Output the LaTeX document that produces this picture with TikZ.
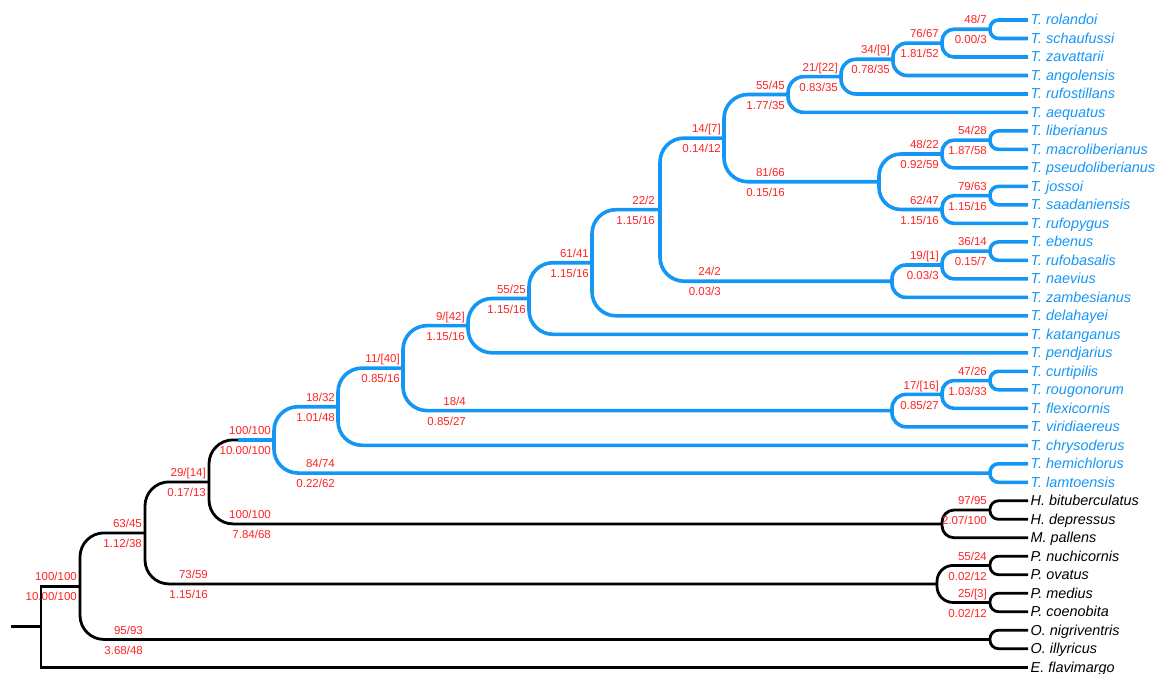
\documentclass[tikz,border=0pt]{standalone}
\usepackage{fontspec}
\setmainfont{Liberation Sans}
\definecolor{tblue}{RGB}{20,150,245}
\definecolor{tred}{RGB}{255,35,35}
\tikzset{
 blu/.style={line width=3.6pt, draw=tblue},
 blk/.style={line width=2.8pt, draw=black},
 taxon/.style={anchor=west, inner xsep=2.5pt, inner ysep=0pt, text height=10pt, text depth=0pt, font=\fontsize{14.4}{16}\selectfont\itshape},
 btax/.style={taxon, text=tblue},
 ktax/.style={taxon, text=black},
 supp/.style={anchor=base east, inner sep=0pt, text=tred, font=\fontsize{11.5}{13}\selectfont},
}
\newcommand\blab[5]{\node[supp] (#1t) at (#2,#3-5.4) {#4}; \node[supp] (#1b) at (#2,#3+14.6) {#5};}
\begin{document}
\begin{tikzpicture}[x=1pt,y=-1pt]
\useasboundingbox (0,0) rectangle (1162,674);
% leaves
\node[btax] (rol) at (1028,20.0) {T. rolandoi};
\node[btax] (sch) at (1028,38.5) {T. schaufussi};
\node[btax] (zav) at (1028,57.0) {T. zavattarii};
\node[btax] (ang) at (1028,75.5) {T. angolensis};
\node[btax] (rfs) at (1028,94.0) {T. rufostillans};
\node[btax] (aeq) at (1028,112.4) {T. aequatus};
\node[btax] (lib) at (1028,130.9) {T. liberianus};
\node[btax] (mac) at (1028,149.4) {T. macroliberianus};
\node[btax] (pse) at (1028,167.9) {T. pseudoliberianus};
\node[btax] (jos) at (1028,186.4) {T. jossoi};
\node[btax] (saa) at (1028,204.9) {T. saadaniensis};
\node[btax] (rfp) at (1028,223.4) {T. rufopygus};
\node[btax] (ebe) at (1028,241.9) {T. ebenus};
\node[btax] (rfb) at (1028,260.4) {T. rufobasalis};
\node[btax] (nae) at (1028,278.9) {T. naevius};
\node[btax] (zam) at (1028,297.4) {T. zambesianus};
\node[btax] (del) at (1028,315.8) {T. delahayei};
\node[btax] (kat) at (1028,334.3) {T. katanganus};
\node[btax] (pen) at (1028,352.8) {T. pendjarius};
\node[btax] (cur) at (1028,371.3) {T. curtipilis};
\node[btax] (rou) at (1028,389.8) {T. rougonorum};
\node[btax] (fle) at (1028,408.3) {T. flexicornis};
\node[btax] (vir) at (1028,426.8) {T. viridiaereus};
\node[btax] (chr) at (1028,445.3) {T. chrysoderus};
\node[btax] (hem) at (1028,463.8) {T. hemichlorus};
\node[btax] (lam) at (1028,482.3) {T. lamtoensis};
\node[ktax] (Hbi) at (1028,500.8) {H. bituberculatus};
\node[ktax] (Hde) at (1028,519.3) {H. depressus};
\node[ktax] (Mpa) at (1028,537.7) {M. pallens};
\node[ktax] (Pnu) at (1028,556.2) {P. nuchicornis};
\node[ktax] (Pov) at (1028,574.7) {P. ovatus};
\node[ktax] (Pme) at (1028,593.2) {P. medius};
\node[ktax] (Pco) at (1028,611.7) {P. coenobita};
\node[ktax] (Oni) at (1028,630.2) {O. nigriventris};
\node[ktax] (Oil) at (1028,648.7) {O. illyricus};
\node[ktax] (Efl) at (1028,667.2) {E. flavimargo};
% internal nodes
\coordinate (nA) at (990,29.25);
\coordinate (nB) at (942,43.1);
\coordinate (nC) at (893,59.3);
\coordinate (nD) at (841,76.65);
\coordinate (nE) at (788,94.5);
\coordinate (nF) at (990,140.15);
\coordinate (nG) at (942,154.0);
\coordinate (nH) at (990,195.65);
\coordinate (nI) at (942,209.5);
\coordinate (nJ) at (879,181.75);
\coordinate (nK) at (724,138.1);
\coordinate (nL) at (990,251.15);
\coordinate (nM) at (942,265.0);
\coordinate (nN) at (892,281.2);
\coordinate (nO) at (660,209.65);
\coordinate (nP) at (592,262.7);
\coordinate (nQ) at (529,298.5);
\coordinate (nR) at (468,325.65);
\coordinate (nS) at (990,380.55);
\coordinate (nT) at (942,394.4);
\coordinate (nU) at (892,410.6);
\coordinate (nV) at (403,368.1);
\coordinate (nW) at (338,406.7);
\coordinate (nX) at (990,473.05);
\coordinate (nY) at (274,439.9);
\coordinate (sw) at (238,439.9);
\coordinate (nZ) at (990,510.05);
\coordinate (nAA) at (942,523.9);
\coordinate (nAB) at (209,481.9);
\coordinate (nAC) at (990,565.45);
\coordinate (nAD) at (990,602.45);
\coordinate (nAE) at (937,583.95);
\coordinate (nAF) at (145,532.9);
\coordinate (nAG) at (990,639.45);
\coordinate (nAH) at (80,586.2);
\coordinate (root) at (41,626.7);
\coordinate (stub) at (11,626.7);
% blue branches
\draw[blu, rounded corners=8.5] (rol.west) -| (nA |- sch.west) -- (sch.west);
\draw[blu, rounded corners=12] (nA) -| (nB |- zav.west) -- (zav.west);
\draw[blu, rounded corners=14] (nB) -| (nC |- ang.west) -- (ang.west);
\draw[blu, rounded corners=15] (nC) -| (nD |- rfs.west) -- (rfs.west);
\draw[blu, rounded corners=16] (nD) -| (nE |- aeq.west) -- (aeq.west);
\draw[blu, rounded corners=8.5] (lib.west) -| (nF |- mac.west) -- (mac.west);
\draw[blu, rounded corners=12] (nF) -| (nG |- pse.west) -- (pse.west);
\draw[blu, rounded corners=8.5] (jos.west) -| (nH |- saa.west) -- (saa.west);
\draw[blu, rounded corners=12] (nH) -| (nI |- rfp.west) -- (rfp.west);
\draw[blu, rounded corners=22] (nG) -| (nJ |- nI) -- (nI);
\draw[blu, rounded corners=24] (nE) -| (nK |- nJ) -- (nJ);
\draw[blu, rounded corners=8.5] (ebe.west) -| (nL |- rfb.west) -- (rfb.west);
\draw[blu, rounded corners=12] (nL) -| (nM |- nae.west) -- (nae.west);
\draw[blu, rounded corners=14] (nM) -| (nN |- zam.west) -- (zam.west);
\draw[blu, rounded corners=24] (nK) -| (nO |- nN) -- (nN);
\draw[blu, rounded corners=24] (nO) -| (nP |- del.west) -- (del.west);
\draw[blu, rounded corners=24] (nP) -| (nQ |- kat.west) -- (kat.west);
\draw[blu, rounded corners=24] (nQ) -| (nR |- pen.west) -- (pen.west);
\draw[blu, rounded corners=8.5] (cur.west) -| (nS |- rou.west) -- (rou.west);
\draw[blu, rounded corners=12] (nS) -| (nT |- fle.west) -- (fle.west);
\draw[blu, rounded corners=14] (nT) -| (nU |- vir.west) -- (vir.west);
\draw[blu, rounded corners=24] (nR) -| (nV |- nU) -- (nU);
\draw[blu, rounded corners=24] (nV) -| (nW |- chr.west) -- (chr.west);
\draw[blu, rounded corners=8.5] (hem.west) -| (nX |- lam.west) -- (lam.west);
\draw[blu, rounded corners=24] (nW) -| (nY |- nX) -- (nX);
\draw[blu] (sw) -- (nY);
% black branches
\draw[blk, rounded corners=8.5] (Hbi.west) -| (nZ |- Hde.west) -- (Hde.west);
\draw[blk, rounded corners=12] (nZ) -| (nAA |- Mpa.west) -- (Mpa.west);
\draw[blk, rounded corners=24] (sw) -| (nAB |- nAA) -- (nAA);
\draw[blk, rounded corners=8.5] (Pnu.west) -| (nAC |- Pov.west) -- (Pov.west);
\draw[blk, rounded corners=8.5] (Pme.west) -| (nAD |- Pco.west) -- (Pco.west);
\draw[blk, rounded corners=16] (nAC) -| (nAE |- nAD) -- (nAD);
\draw[blk, rounded corners=24] (nAB) -| (nAF |- nAE) -- (nAE);
\draw[blk, rounded corners=8.5] (Oni.west) -| (nAG |- Oil.west) -- (Oil.west);
\draw[blk, rounded corners=24] (nAF) -| (nAH |- nAG) -- (nAG);
\draw[blk] (nAH) -| (root |- Efl.west) -- (Efl.west);
\draw[blk] (stub) -- (root);
% support labels
\blab{lA}{987}{29.25}{48/7}{0.00/3}
\blab{lB}{939}{43.1}{76/67}{1.81/52}
\blab{lC}{890}{59.3}{34/[9]}{0.78/35}
\blab{lD}{838}{76.65}{21/[22]}{0.83/35}
\blab{lE}{785}{94.5}{55/45}{1.77/35}
\blab{lF}{987}{140.15}{54/28}{1.87/58}
\blab{lG}{939}{154.0}{48/22}{0.92/59}
\blab{lH}{987}{195.65}{79/63}{1.15/16}
\blab{lI}{939}{209.5}{62/47}{1.15/16}
\blab{lJ}{785}{181.75}{81/66}{0.15/16}
\blab{lK}{721}{138.1}{14/[7]}{0.14/12}
\blab{lL}{987}{251.15}{36/14}{0.15/7}
\blab{lM}{939}{265.0}{19/[1]}{0.03/3}
\blab{lN}{721}{281.2}{24/2}{0.03/3}
\blab{lO}{655}{209.65}{22/2}{1.15/16}
\blab{lP}{589}{262.7}{61/41}{1.15/16}
\blab{lQ}{526}{298.5}{55/25}{1.15/16}
\blab{lR}{465}{325.65}{9/[42]}{1.15/16}
\blab{lS}{987}{380.55}{47/26}{1.03/33}
\blab{lT}{939}{394.4}{17/[16]}{0.85/27}
\blab{lU}{466}{410.6}{18/4}{0.85/27}
\blab{lV}{400}{368.1}{11/[40]}{0.85/16}
\blab{lW}{335}{406.7}{18/32}{1.01/48}
\blab{lX}{335}{473.05}{84/74}{0.22/62}
\blab{lY}{271}{439.9}{100/100}{10.00/100}
\blab{lZ}{987}{510.05}{97/95}{2.07/100}
\blab{lAA}{271}{523.9}{100/100}{7.84/68}
\blab{lAB}{206}{481.9}{29/[14]}{0.17/13}
\blab{lAC}{987}{565.45}{55/24}{0.02/12}
\blab{lAD}{987}{602.45}{25/[3]}{0.02/12}
\blab{lAE}{208}{583.95}{73/59}{1.15/16}
\blab{lAF}{142}{532.9}{63/45}{1.12/38}
\blab{lAG}{143}{639.45}{95/93}{3.68/48}
\blab{lAH}{77}{586.2}{100/100}{10.00/100}
\end{tikzpicture}
\end{document}
